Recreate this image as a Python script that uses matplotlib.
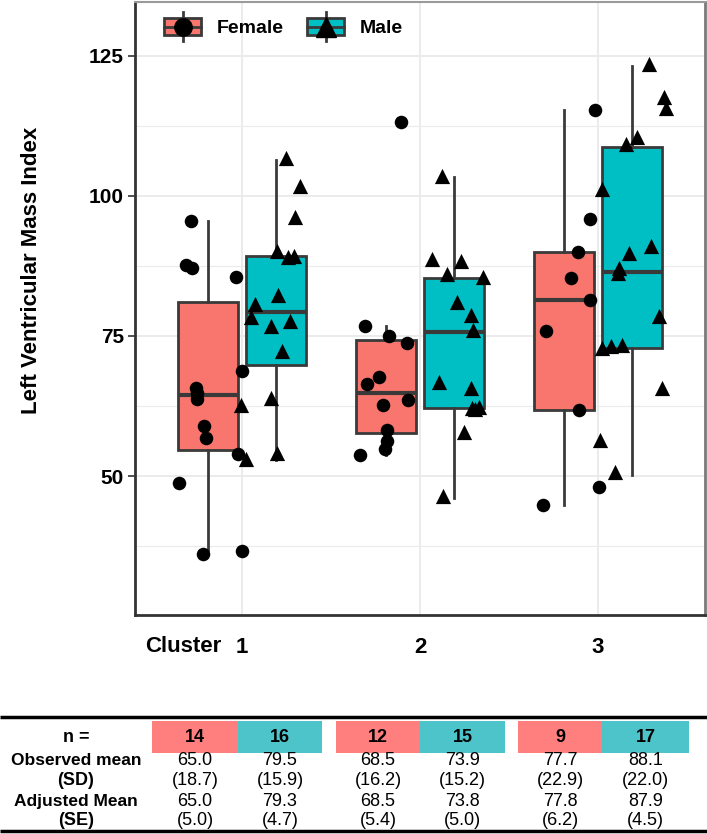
import matplotlib
matplotlib.use('Agg')
import matplotlib.pyplot as plt
from matplotlib.patches import Rectangle
from matplotlib.lines import Line2D
from matplotlib.legend_handler import HandlerBase

plt.rcParams['font.family'] = ['Liberation Sans', 'DejaVu Sans']

clusters = [1, 2, 3]
female_color = '#F8766D'
male_color = '#00BFC4'
female_cell = '#FF7F7F'
male_cell = '#4DC4CA'

# box stats: (q1, median, q3, lower whisker, upper whisker)
female_box = [(54.6, 64.4, 81.0, 36.2, 95.5),
              (57.7, 64.9, 74.2, 53.8, 76.7),
              (61.8, 81.4, 89.9, 44.9, 115.4)]
male_box = [(69.8, 79.2, 89.3, 52.9, 106.4),
            (62.1, 75.7, 85.4, 46.1, 103.3),
            (72.8, 86.5, 108.7, 50.2, 123.2)]

# individual subjects (value, horizontal jitter from cluster centre)
f1 = [95.6, 87.7, 87.2, 85.5, 68.8, 65.7, 64.8, 63.7, 58.9, 56.7, 54.0, 48.8, 36.1, 36.7]
f1_jit = [-0.285, -0.316, -0.279, -0.032, 0.002, -0.258, -0.253, -0.253, -0.21, -0.20, -0.021, -0.354, -0.217, -0.002]
m1 = [106.7, 101.7, 96.2, 90.1, 89.1, 89.3, 82.3, 80.7, 78.3, 76.7, 77.7, 72.4, 62.6, 64.0, 54.2, 53.0]
m1_jit = [0.246, 0.326, 0.298, 0.198, 0.258, 0.292, 0.204, 0.071, 0.054, 0.161, 0.268, 0.226, -0.004, 0.161, 0.198, 0.024]
f2 = [113.1, 76.8, 75.0, 73.8, 67.6, 66.4, 63.6, 62.7, 58.2, 56.3, 54.8, 53.75]
f2_jit = [-0.108, -0.309, -0.174, -0.075, -0.230, -0.296, -0.066, -0.206, -0.184, -0.187, -0.198, -0.339]
m2 = [103.6, 88.7, 88.3, 86.0, 85.6, 81.1, 78.75, 76.1, 66.7, 65.8, 62.1, 62.3, 62.0, 57.8, 46.5]
m2_jit = [0.122, 0.066, 0.232, 0.150, 0.354, 0.206, 0.285, 0.298, 0.107, 0.285, 0.290, 0.331, 0.309, 0.247, 0.131]
f3 = [115.3, 95.9, 89.9, 85.3, 81.4, 75.9, 61.7, 48.0, 44.9]
f3_jit = [-0.015, -0.047, -0.112, -0.150, -0.043, -0.291, -0.107, 0.004, -0.310]
m3 = [123.5, 117.7, 115.6, 110.5, 109.2, 101.3, 91.1, 89.8, 87.1, 86.2, 78.5, 72.8, 73.2, 73.4, 65.7, 56.5, 50.7]
m3_jit = [0.287, 0.371, 0.381, 0.216, 0.156, 0.024, 0.297, 0.174, 0.118, 0.112, 0.343, 0.022, 0.073, 0.135, 0.360, 0.010, 0.094]

female_pts = [(f1, f1_jit), (f2, f2_jit), (f3, f3_jit)]
male_pts = [(m1, m1_jit), (m2, m2_jit), (m3, m3_jit)]

# table under the plot
n_female = [14, 12, 9]
n_male = [16, 15, 17]
obs_female = ['65.0', '68.5', '77.7']
obs_male = ['79.5', '73.9', '88.1']
sd_female = ['18.7', '16.2', '22.9']
sd_male = ['15.9', '15.2', '22.0']
adj_female = ['65.0', '68.5', '77.8']
adj_male = ['79.3', '73.8', '87.9']
se_female = ['5.0', '5.4', '6.2']
se_male = ['4.7', '5.0', '4.5']

edge = '#3a3a3a'
fig = plt.figure(figsize=(7.07, 8.34), dpi=100)
ax = fig.add_axes([135 / 707, 1 - 615 / 834, 570 / 707, 613 / 834])

def to_stats(b):
    return dict(q1=b[0], med=b[1], q3=b[2], whislo=b[3], whishi=b[4])

for boxes, shift, col in [(female_box, -0.19, female_color), (male_box, 0.19, male_color)]:
    ax.bxp([to_stats(b) for b in boxes], positions=[c + shift for c in clusters],
           widths=0.335, patch_artist=True, showfliers=False, showcaps=False,
           boxprops=dict(facecolor=col, edgecolor=edge, linewidth=2),
           whiskerprops=dict(color=edge, linewidth=2),
           medianprops=dict(color=edge, linewidth=3), zorder=2)

for c, (vals, jit) in zip(clusters, female_pts):
    ax.scatter([c + j for j in jit], vals, marker='o', s=95, color='black', zorder=3, linewidths=0)
for c, (vals, jit) in zip(clusters, male_pts):
    ax.scatter([c + j for j in jit], vals, marker='^', s=120, color='black', zorder=3, linewidths=0)

ax.set_xlim(0.4, 3.6)
ax.set_ylim(25.2, 134.6)
ax.set_yticks([50, 75, 100, 125])
ax.set_yticks([37.5, 62.5, 87.5, 112.5], minor=True)
ax.set_xticks(clusters)
ax.set_xticklabels(['1', '2', '3'])
ax.grid(True, which='major', color='#EBEBEB', linewidth=1.4)
ax.grid(True, which='minor', axis='y', color='#EBEBEB', linewidth=0.8)
ax.set_axisbelow(True)
ax.tick_params(axis='y', which='major', length=5, width=1.2, color='#333333', pad=3,
               labelsize=15)
ax.tick_params(axis='y', which='minor', length=0)
ax.tick_params(axis='x', length=0, pad=16, labelsize=16)
for lab in ax.get_xticklabels() + ax.get_yticklabels():
    lab.set_fontweight('bold')
ax.spines['left'].set_color('#333333')
ax.spines['bottom'].set_color('#333333')
ax.spines['left'].set_linewidth(2)
ax.spines['bottom'].set_linewidth(2)
ax.spines['top'].set_color('#9a9a9a')
ax.spines['right'].set_color('#7a7a7a')
ax.spines['top'].set_linewidth(1.5)
ax.spines['right'].set_linewidth(2)

ax.set_ylabel('Left Ventricular Mass Index', fontsize=16, fontweight='bold')
ax.yaxis.set_label_coords(-0.163, 0.563)


class BoxKey(HandlerBase):
    def __init__(self, marker, size):
        super().__init__()
        self.marker = marker
        self.size = size

    def create_artists(self, legend, orig_handle, xdescent, ydescent,
                       width, height, fontsize, trans):
        x0, y0 = -xdescent, -ydescent
        fc = orig_handle.get_facecolor()
        lo = Line2D([x0 + width / 2] * 2, [y0, y0 + 0.2 * height], color=edge, lw=2, transform=trans)
        hi = Line2D([x0 + width / 2] * 2, [y0 + 0.8 * height, y0 + height], color=edge, lw=2, transform=trans)
        rect = Rectangle((x0, y0 + 0.2 * height), width, 0.6 * height, facecolor=fc,
                         edgecolor=edge, lw=2, transform=trans)
        med = Line2D([x0, x0 + width], [y0 + height / 2] * 2, color=edge, lw=2, transform=trans)
        mk = Line2D([x0 + width / 2], [y0 + height / 2], marker=self.marker, color='black',
                    markersize=self.size, ls='none', transform=trans)
        return [lo, hi, rect, med, mk]


h_f = Rectangle((0, 0), 1, 1, facecolor=female_color, label='Female')
h_m = Rectangle((0, 0), 1, 1, facecolor=male_color, label='Male')
leg = ax.legend(handles=[h_f, h_m], handler_map={h_f: BoxKey('o', 12.5), h_m: BoxKey('^', 15)},
                loc='upper left', bbox_to_anchor=(0.038, 0.996), ncol=2, frameon=False,
                prop=dict(size=14, weight='bold'), handlelength=1.9, handleheight=1.9,
                handletextpad=0.8, columnspacing=1.2, borderaxespad=0.0)

# "Cluster" label next to the first tick
fig.text(183 / 707, 1 - 647 / 834, 'Cluster', ha='center', va='center', fontsize=16, fontweight='bold')

# table drawn in pixel-like coordinates
tab = fig.add_axes([0, 0, 1, 204 / 834])
tab.set_xlim(0, 707)
tab.set_ylim(834, 630)
tab.axis('off')
tab.plot([0, 707], [717, 717], color='black', lw=2.5, solid_capstyle='butt')
tab.plot([0, 707], [831, 831], color='black', lw=2.5, solid_capstyle='butt')

col_left = [152, 238, 336, 420, 518, 602]
col_right = [238, 322, 420, 505, 602, 689]
label_x = 76
row_n, row_obs, row_sd, row_adj, row_se = 737, 760, 780, 801, 820
fs = 13

tab.text(label_x, row_n, 'n =', ha='center', va='center', fontsize=fs, fontweight='bold')
tab.text(label_x, row_obs, 'Observed mean', ha='center', va='center', fontsize=fs - 0.5, fontweight='bold')
tab.text(label_x, row_sd, '(SD)', ha='center', va='center', fontsize=fs, fontweight='bold')
tab.text(label_x, row_adj, 'Adjusted Mean', ha='center', va='center', fontsize=fs - 0.5, fontweight='bold')
tab.text(label_x, row_se, '(SE)', ha='center', va='center', fontsize=fs, fontweight='bold')

for i in range(3):
    cols = [(n_female[i], obs_female[i], sd_female[i], adj_female[i], se_female[i], female_cell),
            (n_male[i], obs_male[i], sd_male[i], adj_male[i], se_male[i], male_cell)]
    for k, (n, ob, sd, ad, se, cell) in enumerate(cols):
        j = 2 * i + k
        x0, x1 = col_left[j], col_right[j]
        xc = (x0 + x1) / 2
        tab.add_patch(Rectangle((x0, 721), x1 - x0, 32, facecolor=cell, edgecolor='none'))
        tab.text(xc, row_n, str(n), ha='center', va='center', fontsize=fs, fontweight='bold')
        tab.text(xc, row_obs, ob, ha='center', va='center', fontsize=fs)
        tab.text(xc, row_sd, '(' + sd + ')', ha='center', va='center', fontsize=fs)
        tab.text(xc, row_adj, ad, ha='center', va='center', fontsize=fs)
        tab.text(xc, row_se, '(' + se + ')', ha='center', va='center', fontsize=fs)

fig.savefig('out.png', dpi=100)
